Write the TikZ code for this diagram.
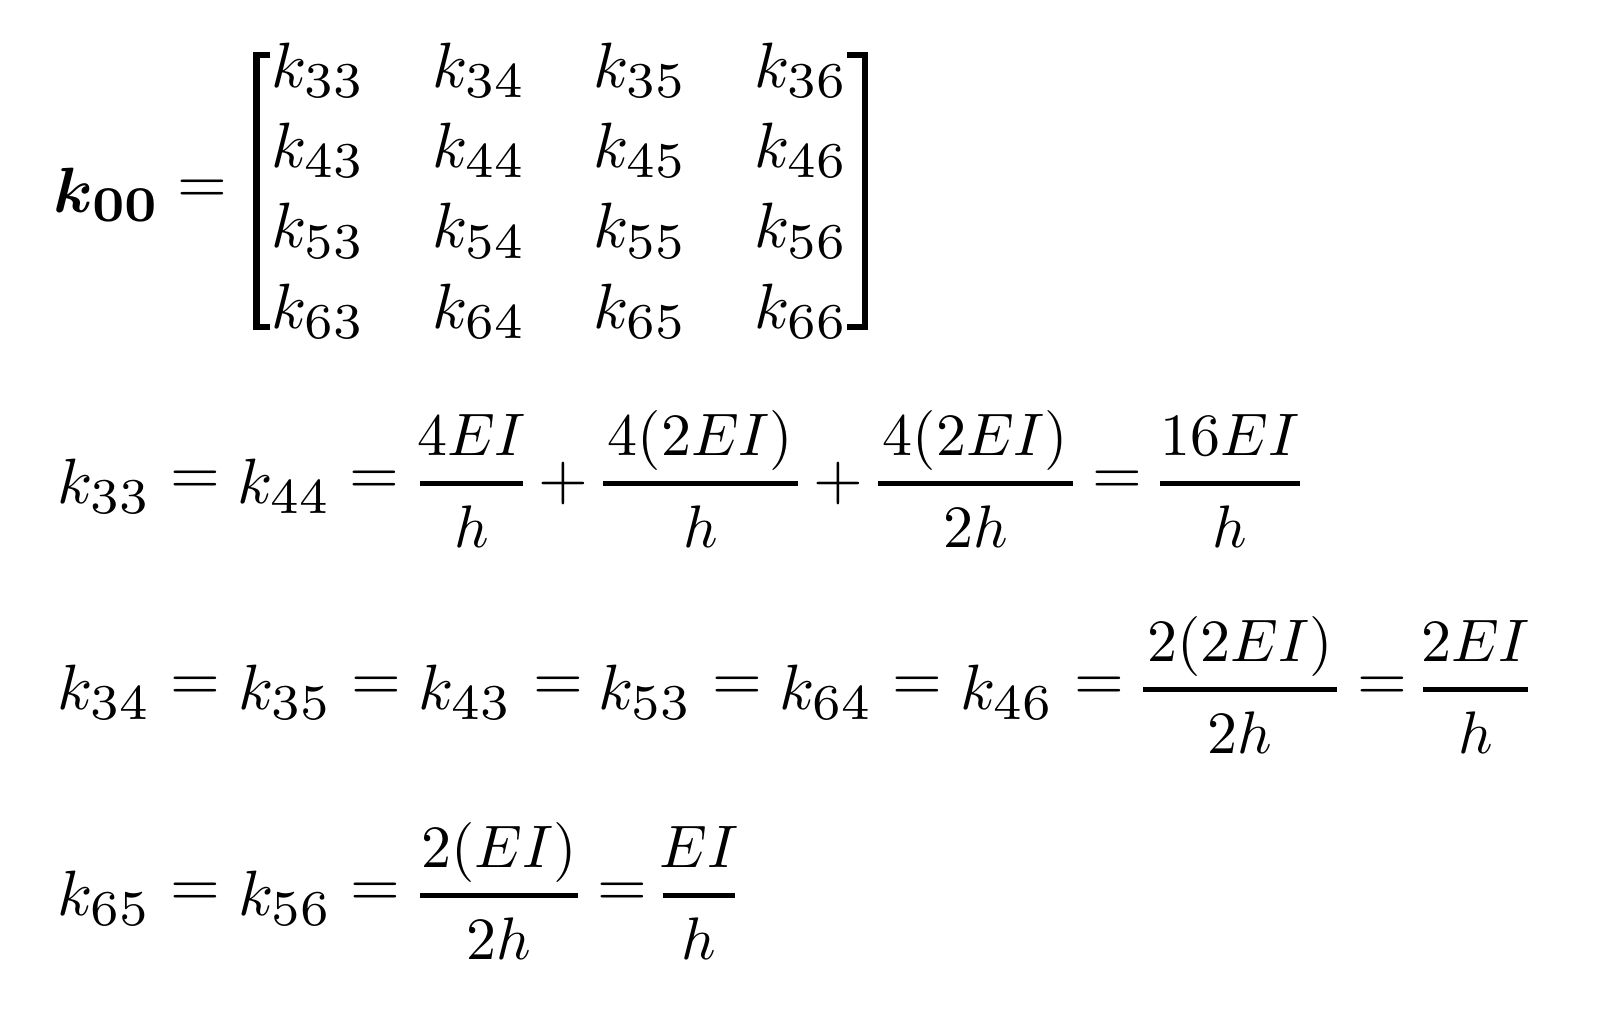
\documentclass[tikz,border=0pt]{standalone}
\usepackage{graphicx}
\newcommand\bigtx[1]{\scalebox{3.2}{$#1$}}
\newcommand\frtx[1]{\scalebox{3.0}{$#1$}}
\newcommand\kk[1]{k_{\mbox{\scalebox{1.12}{$\scriptstyle #1$}}}}
\newcommand\myfrac[6]{%
  \coordinate (#1l) at (#2,#4);
  \coordinate (#1r) at (#3,#4);
  \draw[fracbar] (#1l) -- (#1r);
  \node[frc] (#1n) at ({(#2+#3)/2},{#4-28}) {\frtx{#5}};
  \node[frc] (#1d) at ({(#2+#3)/2},{#4+64}) {\frtx{#6}};
}
\begin{document}
\begin{tikzpicture}[x=0.5pt,y=-0.5pt,
  every node/.style={inner sep=0pt, outer sep=0pt},
  big/.style={anchor=base},
  rel/.style={anchor=center},
  frc/.style={anchor=base},
  fracbar/.style={line width=2.5pt},
  brk/.style={line width=3.25pt, line join=miter}]
\useasboundingbox (0,0) rectangle (1606,1025);
% ---- line 1: matrix
\node[big] (k00) at (107,212) {\scalebox{3.2}{\boldmath$\kk{00}$}};
\node[rel] (eq0) at (202,192) {\bigtx{=}};
\foreach \r [count=\i from 0] in {3,4,5,6} {
  \foreach \c [count=\j from 0] in {3,4,5,6} {
    \node[big] (m\r\c) at (318+161*\j, 87+80.4*\i) {\bigtx{\kk{\r\c}}};
  }
}
\coordinate (lbt) at (270,55);  \coordinate (lbb) at (270,327);
\coordinate (rbt) at (847,55);  \coordinate (rbb) at (847,327);
\draw[brk] (lbt) -- (256.5,55) -- (256.5,327) -- (lbb);
\draw[brk] (rbt) -- (865,55) -- (865,327) -- (rbb);
% ---- line 2
\node[big] (a1) at (104,503) {\bigtx{\kk{33}}};
\node[rel] (a2) at (195,483) {\bigtx{=}};
\node[big] (a3) at (284,503) {\bigtx{\kk{44}}};
\node[rel] (a4) at (374,483) {\bigtx{=}};
\myfrac{f1}{420}{523}{483}{4EI}{h}
\node[rel] (p1) at (563,483) {\bigtx{+}};
\myfrac{f2}{603}{798}{483}{4(2EI)}{h}
\node[rel] (p2) at (838,483) {\bigtx{+}};
\myfrac{f3}{878}{1073}{483}{4(2EI)}{2h}
\node[rel] (a5) at (1117,483) {\bigtx{=}};
\myfrac{f4}{1160}{1300}{483}{16EI}{h}
% ---- line 3
\node[big] (b1) at (104,709) {\bigtx{\kk{34}}};
\node[rel] (b2) at (195,689) {\bigtx{=}};
\node[big] (b3) at (285,709) {\bigtx{\kk{35}}};
\node[rel] (b4) at (376,689) {\bigtx{=}};
\node[big] (b5) at (465,709) {\bigtx{\kk{43}}};
\node[rel] (b6) at (558,689) {\bigtx{=}};
\node[big] (b7) at (645,709) {\bigtx{\kk{53}}};
\node[rel] (b8) at (737,689) {\bigtx{=}};
\node[big] (b9) at (826,709) {\bigtx{\kk{64}}};
\node[rel] (b10) at (917,689) {\bigtx{=}};
\node[big] (b11) at (1007,709) {\bigtx{\kk{46}}};
\node[rel] (b12) at (1099,689) {\bigtx{=}};
\myfrac{f5}{1143}{1337}{689}{2(2EI)}{2h}
\node[rel] (b13) at (1382,689) {\bigtx{=}};
\myfrac{f6}{1423}{1528}{689}{2EI}{h}
% ---- line 4
\node[big] (c1) at (104,915) {\bigtx{\kk{65}}};
\node[rel] (c2) at (195,895) {\bigtx{=}};
\node[big] (c3) at (285,915) {\bigtx{\kk{56}}};
\node[rel] (c4) at (375,895) {\bigtx{=}};
\myfrac{f7}{420}{578}{895}{2(EI)}{2h}
\node[rel] (c5) at (622,895) {\bigtx{=}};
\myfrac{f8}{663}{735}{895}{EI}{h}
\end{tikzpicture}
\end{document}
